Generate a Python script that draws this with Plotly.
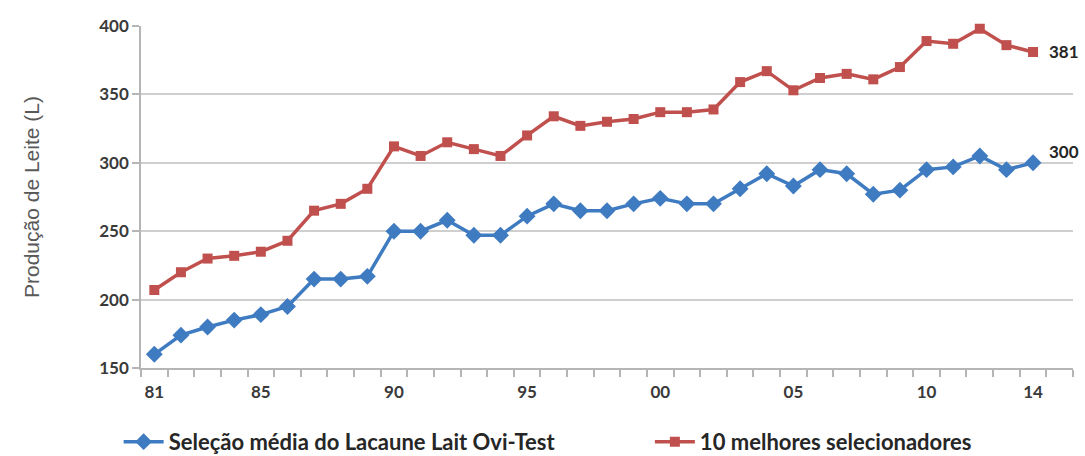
import plotly.graph_objects as go

years = ["81","82","83","84","85","86","87","88","89","90","91","92","93","94","95","96","97",
         "98","99","00","01","02","03","04","05","06","07","08","09","10","11","12","13","14"]
media = [160,174,180,185,189,195,215,215,217,250,250,258,247,247,261,270,265,
         265,270,274,270,270,281,292,283,295,292,277,280,295,297,305,295,300]
melhores = [207,220,230,232,235,243,265,270,281,312,305,315,310,305,320,334,327,
            330,332,337,337,339,359,367,353,362,365,361,370,389,387,398,386,381]
tick_years = ["81","85","90","95","00","05","10","14"]
y_ticks = [150,200,250,300,350,400]

name_media = "Seleção média do Lacaune Lait Ovi-Test"
name_melhores = "10 melhores selecionadores"

xi = list(range(len(years)))
tickpos = [years.index(t) for t in tick_years]
xrange_ = [-0.5, len(years) + 0.5]

BLUE = "#3f7bc1"
RED = "#c0504d"
FONT = "Lato"
AXIS = "#b5b5b5"
legfont = dict(family=FONT, size=22, color="#262626", weight="bold")

fig = go.Figure()
fig.add_trace(go.Scatter(x=xi, y=media, name=name_media, mode="lines+markers",
                         line=dict(color=BLUE, width=3.5),
                         marker=dict(symbol="diamond", size=13, color=BLUE),
                         cliponaxis=False, legend="legend"))
fig.add_trace(go.Scatter(x=xi, y=melhores, name=name_melhores, mode="lines+markers",
                         line=dict(color=RED, width=3.5),
                         marker=dict(symbol="square", size=10, color=RED),
                         cliponaxis=False, legend="legend2"))
# invisible helper trace on the label axis
fig.add_trace(go.Scatter(x=[xi[0]], y=[media[0]], xaxis="x2", mode="markers",
                         marker=dict(opacity=0), showlegend=False, hoverinfo="skip"))

fig.add_annotation(x=xi[-1], y=melhores[-1], text=str(melhores[-1]), showarrow=False,
                   xanchor="left", xshift=14, yshift=0,
                   font=dict(family=FONT, size=17, color="#262626", weight="bold"))
fig.add_annotation(x=xi[-1], y=media[-1], text=str(media[-1]), showarrow=False,
                   xanchor="left", xshift=14, yshift=11,
                   font=dict(family=FONT, size=17, color="#262626", weight="bold"))

fig.update_layout(
    width=1085, height=456,
    margin=dict(l=141, r=12, t=26, b=88, autoexpand=False),
    paper_bgcolor="white", plot_bgcolor="white",
    showlegend=True,
    legend=dict(orientation="h", x=-0.024, xanchor="left", y=-0.216, yanchor="middle",
                font=legfont, itemwidth=40, bgcolor="rgba(0,0,0,0)"),
    legend2=dict(orientation="h", x=0.546, xanchor="left", y=-0.216, yanchor="middle",
                 font=legfont, itemwidth=40, bgcolor="rgba(0,0,0,0)"),
    # main x axis: category-boundary tick marks
    xaxis=dict(range=xrange_, tickmode="linear", tick0=-0.5, dtick=1,
               ticks="outside", ticklen=7, tickcolor=AXIS, tickwidth=1.5,
               showticklabels=False, showgrid=False, zeroline=False,
               showline=True, linecolor=AXIS, linewidth=1.5, automargin=False),
    # overlay x axis: year labels
    xaxis2=dict(range=xrange_, overlaying="x", side="bottom", anchor="y",
                tickmode="array", tickvals=tickpos, ticktext=tick_years, ticks="",
                tickfont=dict(family=FONT, size=17, color="#3a3a3a", weight="bold"),
                ticklabelstandoff=12, showgrid=False, zeroline=False,
                showline=False, automargin=False),
    yaxis=dict(range=[150, 400], tickmode="array", tickvals=y_ticks,
               showgrid=True, gridcolor="#cfcfcf", gridwidth=1.5, zeroline=False,
               showline=True, linecolor=AXIS, linewidth=1.5, automargin=False,
               ticks="outside", ticklen=7, tickcolor=AXIS, tickwidth=1.5,
               tickfont=dict(family=FONT, size=17, color="#3a3a3a", weight="bold"),
               title=dict(text="Produção de Leite (L)", standoff=54,
                          font=dict(family="Liberation Sans", size=21, color="#595959"))),
)

fig.write_html("out.html")
